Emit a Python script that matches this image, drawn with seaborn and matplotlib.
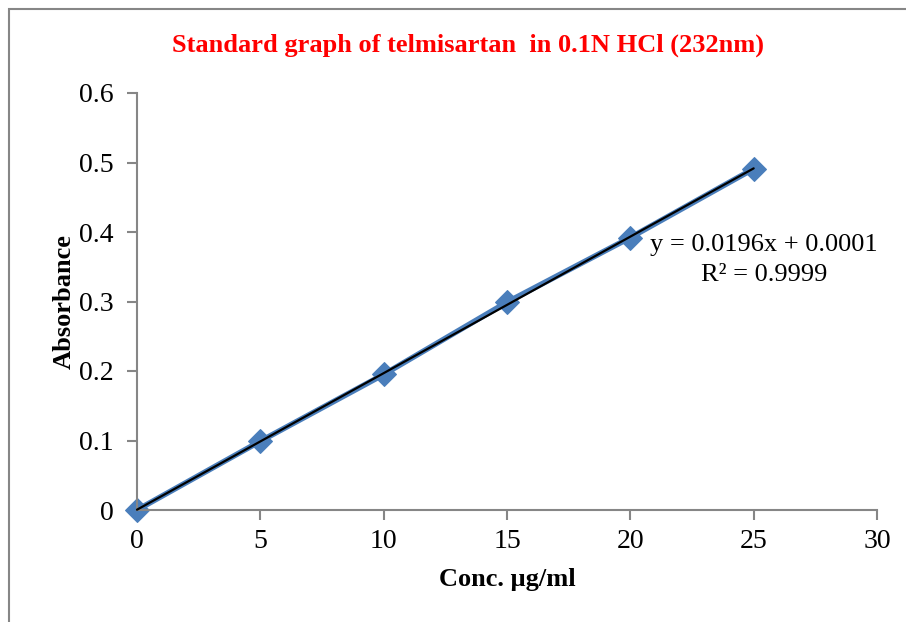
import numpy as np
import pandas as pd
import matplotlib
matplotlib.use('Agg')
import matplotlib.pyplot as plt
import matplotlib.patches as patches
import seaborn as sns

# datos
conc = [0, 5, 10, 15, 20, 25]
absorbancia = [0.0, 0.099, 0.195, 0.299, 0.392, 0.491]
ecuacion = 'y = 0.0196x + 0.0001\nR² = 0.9999'
x_ticks = [0, 5, 10, 15, 20, 25, 30]
y_ticks = [0, 0.1, 0.2, 0.3, 0.4, 0.5, 0.6]
y_labels = ['0', '0.1', '0.2', '0.3', '0.4', '0.5', '0.6']

df = pd.DataFrame({'conc': conc, 'abs': absorbancia})

sns.set_style('white')
plt.rcParams['font.family'] = ['Liberation Serif', 'DejaVu Serif']
plt.rcParams['text.color'] = 'black'
plt.rcParams['axes.labelcolor'] = 'black'

fig = plt.figure(figsize=(9.06, 6.22), dpi=100)
ax = fig.add_axes([137/906, 1-510/622, (877-137)/906, (510-93)/622])

gris = '#868686'
azul = '#4A7EBB'

sns.lineplot(data=df, x='conc', y='abs', ax=ax, color=azul, lw=4,
             marker='D', markersize=12, markeredgecolor=azul, zorder=2)
sns.regplot(data=df, x='conc', y='abs', ax=ax, scatter=False, ci=None,
            truncate=True, color='black', line_kws={'lw': 1.6, 'zorder': 3})

ax.set_xlim(0, 30)
ax.set_ylim(0, 0.6)
ax.set_xticks(x_ticks)
ax.set_yticks(y_ticks)
ax.set_yticklabels(y_labels)
ax.tick_params(axis='both', labelsize=20, colors='black', length=7,
               width=1.5, color=gris, direction='out', left=True, bottom=True)
ax.tick_params(axis='x', pad=7)
ax.tick_params(axis='y', pad=10)
for lado in ['top', 'right']:
    ax.spines[lado].set_visible(False)
for lado in ['left', 'bottom']:
    ax.spines[lado].set_color(gris)
    ax.spines[lado].set_linewidth(1.5)
for linea in ax.lines:
    linea.set_clip_on(False)

ax.set_xlabel('Conc. µg/ml', fontsize=19, fontweight='bold', labelpad=10)
ax.set_ylabel('Absorbance', fontsize=19, fontweight='bold', labelpad=2)

fig.text(468/906, 1-45/622, 'Standard graph of telmisartan  in 0.1N HCl (232nm)',
         color='red', fontsize=19, fontweight='bold', ha='center', va='center')
fig.text(764/906, 1-260/622, ecuacion, fontsize=19, ha='center', va='center',
         multialignment='center', linespacing=1.5)

# marco del area del grafico
marco = patches.Rectangle((9/906, -0.1), 1.2, 1 - 9/622 + 0.1, transform=fig.transFigure,
                          fill=False, edgecolor=gris, lw=1.5)
fig.patches.append(marco)

fig.savefig('out.png', dpi=100)
